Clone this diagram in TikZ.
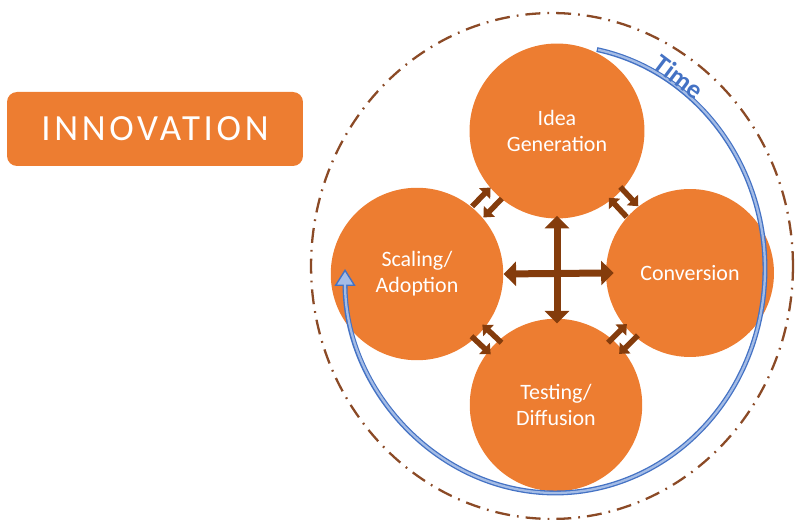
\documentclass[tikz,border=0pt]{standalone}
\usepackage{fontspec}
\setmainfont{Carlito}
\usepackage{tikz}
\usetikzlibrary{arrows.meta,calc}
\definecolor{innoorange}{HTML}{ED7D31}
\definecolor{innobrown}{HTML}{843C0C}
\definecolor{orbitbrown}{HTML}{8B4A26}
\definecolor{timeblue}{HTML}{4472C4}
\definecolor{timelight}{HTML}{A4BCE6}

\begin{document}
\begin{tikzpicture}[
    x=0.02cm, y=0.02cm,
    phase/.style={circle, fill=innoorange, minimum size=3.45cm, inner sep=0pt, text=white, align=center, font=\fontsize{12.5}{14.8}\selectfont},
    banner/.style={rectangle, rounded corners=0.2cm, fill=innoorange, minimum width=5.92cm, minimum height=1.48cm, text=white, font=\fontsize{21}{25}\selectfont\addfontfeature{LetterSpace=10}},
    cross/.style={{Triangle[width=0.48cm,length=0.25cm]}-{Triangle[width=0.48cm,length=0.25cm]}, line width=0.14cm, innobrown},
    swap/.style={-{Triangle[width=0.3cm,length=0.17cm]}, line width=0.11cm, innobrown},
    orbit/.style={orbitbrown, line width=1.3pt, dash pattern=on 8.5pt off 4pt on 1pt off 4pt},
    timeline/.style={timeblue, line width=2.8pt},
    timelabel/.style={text=timeblue, font=\fontsize{15}{17}\selectfont\bfseries}
]
\useasboundingbox (0,0) rectangle (795,520);

% Title
\node[banner] (innovation) at (155,391) {INNOVATION};

% Outer cycle
\draw[orbit] (552,254) ellipse [x radius=4.82cm, y radius=5.06cm];

% Phases
\node[phase, minimum size=3.5cm] (idea) at (557,389) {Idea\\Generation};
\node[phase] (scaling) at (417,246) {Scaling/\\Adoption};
\node[phase, minimum size=3.36cm] (conversion) at (690,247) {Conversion};
\node[phase] (testing) at (556,115) {Testing/\\Diffusion};

% Central cross
\draw[cross, shorten <=-0.06cm, shorten >=-0.1cm] (idea.south) -- (idea.south |- testing.north);
\draw[cross, shorten >=-0.16cm] (scaling.east) -- (conversion.west);

% Exchange between neighbours
\foreach \a/\b/\s in {scaling/idea/90, idea/conversion/90, conversion/testing/90, testing/scaling/-90} {
  \draw[swap] ($(\a)!0.5!(\b)!-7.5pt!(\b)!4.5pt!\s:(\b)$) -- ($(\a)!0.5!(\b)!7.5pt!(\b)!4.5pt!\s:(\b)$);
  \draw[swap] ($(\b)!0.5!(\a)!-7.5pt!(\a)!4.5pt!\s:(\a)$) -- ($(\b)!0.5!(\a)!7.5pt!(\a)!4.5pt!\s:(\a)$);
}

% Time arrow
\coordinate (tcenter) at (555,251);
\coordinate (tstart) at ($(tcenter)+(78.5:4.2cm and 4.48cm)$);
\draw[timeline, -{Triangle[length=0.34cm, width=0.42cm, line width=0.8pt, fill=timelight]}] (tstart) arc[start angle=78.5, end angle=-180, x radius=4.2cm, y radius=4.48cm];
\draw[timelight, line width=1.3pt, shorten <=0.7pt, shorten >=0.3cm] (tstart) arc[start angle=78.5, end angle=-180, x radius=4.2cm, y radius=4.48cm];
\node[timelabel, rotate=-37] (timelbl) at (679,443) {Time};
\end{tikzpicture}
\end{document}
